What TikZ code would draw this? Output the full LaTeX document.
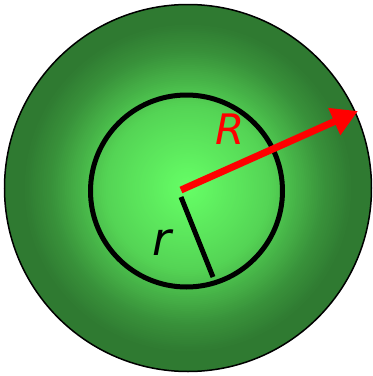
\documentclass[tikz,border=0pt]{standalone}
\usepackage{fontspec}
\setmainfont{DejaVu Sans}
\usetikzlibrary{arrows.meta}
\definecolor{lg}{HTML}{66FF66}
\definecolor{dg}{HTML}{2F7A31}
\tikzset{
  radiusline/.style={line width=5pt, line cap=butt},
  bigarrow/.style={line width=7pt, red, -{Triangle[length=26pt,width=28pt]}},
  lbl/.style={font=\fontsize{42}{44}\selectfont\itshape, inner sep=0pt}
}
\begin{document}
\begin{tikzpicture}[x=1pt,y=-1pt]
\useasboundingbox (0,0) rectangle (373,376);
\coordinate (C) at (188,188);
\coordinate (c) at (186.5,191);
\foreach \i in {0,...,100}{
  \pgfmathsetmacro{\f}{1-\i/100}
  \pgfmathsetmacro{\q}{\f<0.45 ? 100-71*\f : (\f<0.75 ? 68-170*(\f-0.45) : 17-113*(\f-0.75))}
  \pgfmathsetmacro{\p}{max(0,min(100,\q))}
  \fill[lg!\p!dg] (C) circle[radius=183.5*\f];
}
\draw[line width=1.5pt] (C) circle[radius=183.5];
\draw[line width=5pt] (c) circle[radius=96];
\coordinate (a0) at (181,190);
\coordinate (a1) at (358,111);
\draw[bigarrow] (a0) -- (a1);
\coordinate (b0) at (181,197);
\coordinate (b1) at (213,277);
\draw[radiusline] (b0) -- (b1);
\node[lbl, text=red] (R) at (230,129) {R};
\node[lbl, font=\fontsize{46}{48}\selectfont\itshape] (r) at (162,243) {r};
\end{tikzpicture}
\end{document}
